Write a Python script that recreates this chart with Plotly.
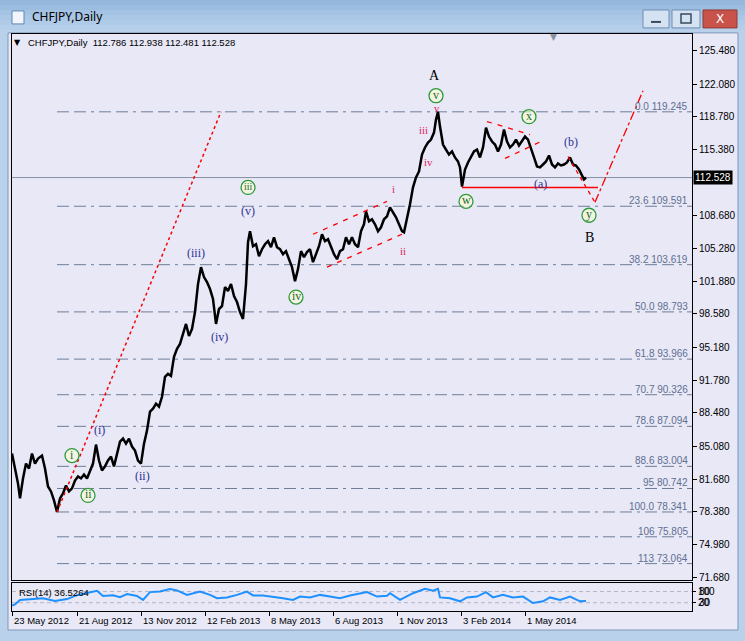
import plotly.graph_objects as go

W, H = 745, 641
def px(x): return x / W
def py(y): return 1 - y / H

# ---------------- data ----------------
price_bar = [0,3,6,8,11,14,17,20,23,26,30,33,36,39,42,45,48,51,54,57,60,63,66,69,72,75,78,81,84,87,90,93,96,99,102,105,108,111,114,117,120,123,126,129,132,135,138,141,144,147,150,153,156,159,162,165,168,171,174,177,180,183,186,189,192,195,198,201,204,207,210,213,216,219,222,225,228,231,234,236,238,241,244,247,250,253,256,259,262,265,268,271,274,277,280,283,286,289,292,295,298,301,304,307,310,313,316,319,322,325,328,331,334,337,340,343,346,349,352,354,357,360,363,366,369,372,375,378,381,384,387,390,392,395,398,401,404,407,410,413,416,419,422,424,426,428,431,434,437,440,443,446,448,450,453,456,459,462,465,468,471,474,477,480,483,486,489,492,495,498,501,504,507,510,513,516,519,522,525,528,531,534,537,540,543,546,549,552,555,558,561,564,567,570,572,574]
price_close = [84.31,82.78,81.26,79.73,81.77,83.29,82.78,84.31,83.29,83.80,84.11,82.78,80.95,80.44,79.52,78.34,79.73,80.24,81.05,80.44,80.75,81.56,81.97,81.77,82.17,81.77,82.58,83.29,85.23,83.60,82.58,83.00,83.60,84.01,83.00,84.31,85.53,85.84,85.33,85.84,85.03,84.62,83.60,83.29,85.33,86.66,88.59,88.90,89.41,89.10,90.12,92.16,92.46,92.26,94.20,95.01,95.52,96.54,97.56,96.34,97.05,98.78,101.63,103.37,102.35,101.84,101.13,100.11,97.56,99.09,99.39,101.33,100.92,101.64,100.41,99.80,98.78,98.07,101.64,105.92,107.04,105.51,105.71,104.49,105.20,105.71,106.02,105.41,106.42,105.41,105.20,104.69,105.00,104.18,103.37,101.94,103.17,105.00,104.39,104.90,105.20,103.88,104.69,105.51,106.73,106.02,106.22,105.51,104.69,104.18,105.00,105.20,106.42,105.71,106.42,105.71,105.41,107.04,107.75,109.07,108.05,108.26,107.75,107.04,107.44,108.26,108.56,109.48,108.97,108.46,107.75,107.04,106.93,108.26,109.79,111.52,112.54,113.15,114.88,115.60,116.11,116.41,117.12,118.45,119.24,117.74,115.90,115.39,114.88,115.19,114.58,114.17,113.56,111.60,113.35,114.07,114.58,115.19,115.39,114.58,115.60,117.63,116.72,116.21,115.90,115.19,115.90,117.43,116.21,115.60,115.90,116.41,115.80,116.21,116.72,116.41,115.39,114.58,113.66,113.56,113.86,114.17,114.78,113.86,113.56,113.97,113.76,113.86,114.07,114.58,113.86,113.76,113.35,112.74,112.34,112.53]

rsi_bar = [0,3,8,21,31,43,55,65,75,85,91,101,108,115,125,131,138,148,158,165,175,188,198,205,215,225,235,241,251,261,271,281,288,298,308,318,328,338,355,365,375,378,388,401,413,421,426,428,438,448,455,465,474,481,491,501,511,521,531,538,548,558,568,574]
rsi_val = [20,24,40,44,46,36,43,57,64,73,54,57,50,61,54,40,68,70,79,74,58,70,58,46,49,58,70,56,56,52,46,40,52,49,58,52,46,56,68,52,55,64,40,64,80,73,80,49,46,35,49,52,68,49,58,49,52,29,35,49,40,52,35,36.5]

fib_names = ["0.0", "23.6", "38.2", "50.0", "61.8", "70.7", "78.6", "88.6", "95", "100.0", "106", "113"]
fib_levels = [119.245, 109.591, 103.619, 98.793, 93.966, 90.326, 87.094, 83.004, 80.742, 78.341, 75.805, 73.064]

price_ticks = [125.48, 122.08, 118.78, 115.38, 108.68, 105.28, 101.88, 98.58, 95.18, 91.78, 88.48, 85.08, 81.68, 78.38, 74.98, 71.68]
date_tick_bars = [0, 65, 129, 193, 257, 321, 385, 449, 513]
date_labels = ["23 May 2012", "21 Aug 2012", "13 Nov 2012", "12 Feb 2013", "8 May 2013",
               "6 Aug 2013", "1 Nov 2013", "3 Feb 2014", "1 May 2014"]

last_price = 112.528
header = "CHFJPY,Daily  112.786 112.938 112.481 112.528"

# ---------------- figure ----------------
AX = "Liberation Sans"
SERIF = "Liberation Serif"
fig = go.Figure()

fig.add_trace(go.Scatter(x=price_bar, y=price_close, mode="lines",
                         line=dict(color="black", width=2.5), hoverinfo="skip",
                         xaxis="x", yaxis="y"))
fig.add_trace(go.Scatter(x=rsi_bar, y=rsi_val, mode="lines",
                         line=dict(color="#1E90FF", width=2), hoverinfo="skip",
                         xaxis="x2", yaxis="y2"))

shapes = []
ann = []

def text(t, x, y, xref="paper", yref="paper", xa="center", ya="middle", **kw):
    d = dict(text=t, x=x, y=y, xref=xref, yref=yref, xanchor=xa, yanchor=ya, showarrow=False)
    d.update(kw)
    ann.append(d)

def prect(x0, y0, x1, y1, fill, line=None, layer="above"):
    shapes.append(dict(type="rect", xref="paper", yref="paper", x0=px(x0), x1=px(x1), y0=py(y1), y1=py(y0),
                       fillcolor=fill, line=line or dict(width=0), layer=layer))

# window chrome (title bar bands for a soft gradient)
for i, c in enumerate(["#97B8DD", "#9DBDE0", "#A4C2E3", "#AAC7E6", "#B0CBE8", "#B5CFEA"]):
    prect(0, i * 5, 745, i * 5 + 5, c, layer="below")
prect(8, 33, 738, 632, "#E8E8F7", dict(color="#7E98B8", width=1), layer="below")
# buttons
prect(643, 10, 669, 28, "#D5E2F1", dict(color="#6E8DB3", width=1))
prect(651, 21, 661, 23, "#3A4A60")
prect(672, 10, 700, 28, "#D5E2F1", dict(color="#6E8DB3", width=1))
prect(681, 14, 691, 23, "rgba(0,0,0,0)", dict(color="#3A4A60", width=1.5))
prect(703, 10, 737, 28, "#C9524A", dict(color="#8E3A34", width=1))
prect(12, 11, 24, 24, "#F2F6FB", dict(color="#5F86B8", width=1))
text("X", px(720), py(19), font=dict(family="DejaVu Sans", size=12, color="white"))
text("CHFJPY,Daily", px(30), py(17), xa="left", font=dict(family="Noto Sans", size=12, color="black"))

# fib lines + labels
for name, lvl in zip(fib_names, fib_levels):
    shapes.append(dict(type="line", xref="x", yref="y", x0=45, x1=680, y0=lvl, y1=lvl, layer="below",
                       line=dict(color="#6E7E9A", width=1, dash="12px,5px,12px,5px,3px,5px")))
    text(f"{name} {lvl:.3f}", 678, lvl, xref="x", yref="y", xa="right", ya="bottom", yshift=-2,
         font=dict(family=AX, size=10, color="#5F6F8F"))

# current price line
shapes.append(dict(type="line", xref="x", yref="y", x0=0, x1=680, y0=last_price, y1=last_price,
                   layer="below", line=dict(color="#8890A4", width=1)))

# red lines
red = "#FF0000"
def seg(x0, y0, x1, y1, dash, w=1.3):
    shapes.append(dict(type="line", xref="x", yref="y", x0=x0, y0=y0, x1=x1, y1=y1,
                       line=dict(color=red, width=w, dash=dash)))
seg(45, 78.341, 209, 119.245, "dot", 1.5)
seg(301, 106.73, 375, 110.09, "5px,6px")
seg(315, 103.37, 390, 106.73, "5px,6px")
seg(475, 118.25, 518, 116.92, "5px,6px")
seg(493, 114.48, 531, 116.31, "5px,6px")
seg(450, 111.52, 586, 111.52, "solid", 1.5)
seg(556, 114.68, 583, 109.99, "4px,4px")
seg(583, 109.99, 631, 121.40, "dashdot")

# wave labels
green_lbl = [("i", 60, 84.11), ("ii", 76, 80.03), ("iii", 236, 111.52), ("iv", 284, 100.31),
             ("v", 424, 120.89), ("w", 454, 110.09), ("x", 517, 118.75), ("y", 577, 108.67)]
for t, bx, by in green_lbl:
    shapes.append(dict(type="circle", xref="x", yref="y", xsizemode="pixel", ysizemode="pixel",
                       xanchor=bx, yanchor=by, x0=-7, x1=7, y0=-7, y1=7,
                       fillcolor="rgba(255,255,210,0.5)", line=dict(color="#2F9A3A", width=1.3)))
    text(t, bx, by, xref="x", yref="y", yshift=1,
         font=dict(family=SERIF, size=12 if len(t) < 3 else 10, color="#1F6F1F"))

navy_lbl = [("(i)", 87, 86.76), ("(ii)", 130, 82.07), ("(iii)", 184, 104.79), ("(iv)", 207, 96.23),
            ("(v)", 236, 109.07), ("(a)", 528, 111.83), ("(b)", 559, 116.11)]
for t, bx, by in navy_lbl:
    text(t, bx, by, xref="x", yref="y", font=dict(family=SERIF, size=12, color="#2E3192"))

red_lbl = [("i", 381, 111.32), ("ii", 391, 105.00), ("iii", 411, 117.43), ("iv", 416, 114.07), ("v", 425, 119.67)]
for t, bx, by in red_lbl:
    text(t, bx, by, xref="x", yref="y", font=dict(family=SERIF, size=11, color="#E0245E"))

for t, bx, by in [("A", 422, 122.93), ("B", 577, 106.42)]:
    text(t, bx, by, xref="x", yref="y", font=dict(family=SERIF, size=14, color="black"))

# header text
text("▼", px(17), py(43), font=dict(family="DejaVu Sans", size=8, color="black"))
text(header, px(26), py(43), xa="left", font=dict(family=AX, size=9.5, color="black"))
text("▼", px(553), py(37), font=dict(family="DejaVu Sans", size=9, color="#8A8F9C"))

# last price box
text(f"{last_price:.3f}", px(693), last_price, yref="y", xa="left", bgcolor="black", borderpad=1,
     font=dict(family=AX, size=10, color="white"))

# date labels
for b, lab in zip(date_tick_bars, date_labels):
    text(lab, b, py(622), xref="x2", xa="left", font=dict(family=AX, size=9.5, color="black"))

# RSI texts
text("RSI(14) 36.5264", px(17), py(594), xa="left", font=dict(family=AX, size=9.5, color="black"))
text("80", px(697), 70, yref="y2", xa="left", font=dict(family=AX, size=10, color="black"))
text("30", px(697), 30, yref="y2", xa="left", font=dict(family=AX, size=10, color="black"))
for lv in (70, 30):
    shapes.append(dict(type="line", xref="x2", yref="y2", x0=0, x1=680, y0=lv, y1=lv, layer="below",
                       line=dict(color="#B4B4C4", width=1, dash="4px,3px")))

fig.update_layout(
    width=W, height=H, margin=dict(l=0, r=0, t=0, b=0),
    paper_bgcolor="#B9D1EB", plot_bgcolor="#E8E8F7", showlegend=False,
    shapes=shapes, annotations=ann,
    xaxis=dict(domain=[px(12), px(692)], range=[0, 680], anchor="y", showgrid=False, zeroline=False,
               showticklabels=False, ticks="", showline=True, mirror=True, linecolor="black", linewidth=1),
    yaxis=dict(domain=[py(582), py(34)], range=[71.37, 127.21], side="right", anchor="x",
               tickvals=price_ticks, ticktext=[f"{v:.3f}" for v in price_ticks],
               ticks="outside", ticklen=4, tickcolor="black", showgrid=False, zeroline=False,
               showline=True, mirror=True, linecolor="black", linewidth=1,
               tickfont=dict(family=AX, size=10, color="black")),
    xaxis2=dict(domain=[px(12), px(692)], range=[0, 680], anchor="y2", showgrid=False, zeroline=False,
                tickvals=date_tick_bars, ticktext=[""] * len(date_tick_bars), ticks="outside", ticklen=4,
                tickcolor="black", showline=True, mirror=True, linecolor="black", linewidth=1),
    yaxis2=dict(domain=[py(613), py(585)], range=[0, 100], side="right", anchor="x2",
                tickvals=[70, 30], ticktext=["100", "20"], ticks="outside", ticklen=3, tickcolor="black",
                showgrid=False, zeroline=False, showline=True, mirror=True, linecolor="black", linewidth=1,
                tickfont=dict(family=AX, size=10, color="black")),
)

fig.write_html("out.html", config={"displayModeBar": False})
with open("out.html", "r", encoding="utf-8") as f:
    html = f.read()
html = html.replace("<head>", "<head><style>html,body{margin:0;padding:0;overflow:hidden;}</style>", 1)
with open("out.html", "w", encoding="utf-8") as f:
    f.write(html)
